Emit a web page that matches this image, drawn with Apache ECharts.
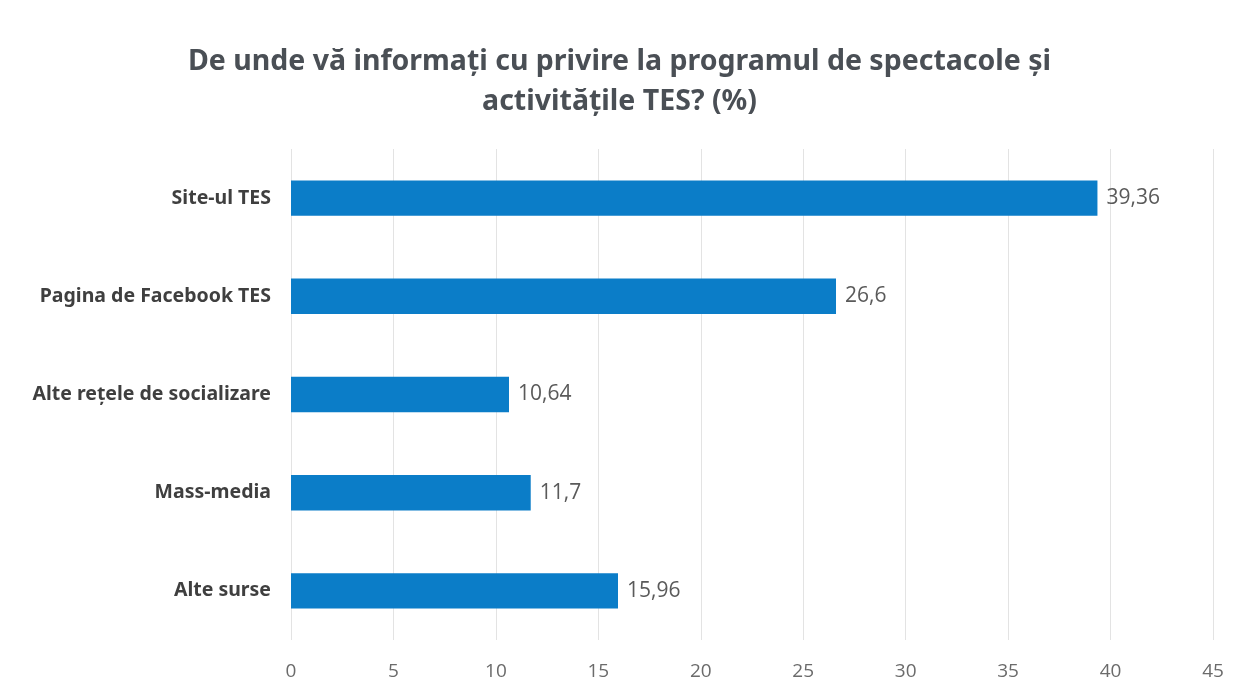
<!DOCTYPE html>
<html>
<head>
<meta charset="utf-8">
<script src="https://cdn.jsdelivr.net/npm/echarts@6/dist/echarts.min.js"></script>
<style>
  html, body { margin: 0; padding: 0; background: #fff; }
  #chart { width: 1239px; height: 695px; }
</style>
</head>
<body>
<div id="chart"></div>
<script>
// categories from top to bottom as in the picture
const categories = ['Site-ul TES', 'Pagina de Facebook TES', 'Alte rețele de socializare', 'Mass-media', 'Alte surse'];
const values = [39.36, 26.6, 10.64, 11.7, 15.96];
const labels = ['39,36', '26,6', '10,64', '11,7', '15,96'];

const myChart = echarts.init(document.getElementById('chart'));
const option = {
  backgroundColor: '#fff',
  title: {
    text: 'De unde vă informați cu privire la programul de spectacole și\nactivitățile TES? (%)',
    left: 'center',
    top: 37,
    textStyle: {
      fontFamily: 'Noto Sans',
      fontSize: 28.5,
      fontWeight: 'bold',
      color: '#4a4f55',
      lineHeight: 40
    }
  },
  grid: {
    left: 291,
    right: 26,
    top: 149,
    bottom: 55
  },
  xAxis: {
    type: 'value',
    min: 0,
    max: 45,
    interval: 5,
    axisLine: { show: false },
    axisTick: { show: false },
    axisLabel: {
      color: '#6b6b6b',
      fontFamily: 'Open Sans',
      fontSize: 19,
      margin: 22
    },
    splitLine: { lineStyle: { color: '#e3e3e3', width: 1 } }
  },
  yAxis: {
    type: 'category',
    inverse: true,
    data: categories,
    axisLine: { show: false },
    axisTick: { show: false },
    axisLabel: {
      color: '#3f3f3f',
      fontFamily: 'Noto Sans',
      fontWeight: 'bold',
      fontSize: 19.5,
      margin: 20
    }
  },
  series: [{
    type: 'bar',
    data: values,
    barWidth: '36%',
    itemStyle: { color: '#0b7dc8' },
    label: {
      show: true,
      position: 'right',
      distance: 9,
      color: '#5a5a5a',
      fontFamily: 'Open Sans',
      fontSize: 21,
      formatter: p => labels[p.dataIndex]
    }
  }]
};
myChart.setOption(option, true);
window.addEventListener('resize', function () {
  myChart.resize();
});
</script>
</body>
</html>
